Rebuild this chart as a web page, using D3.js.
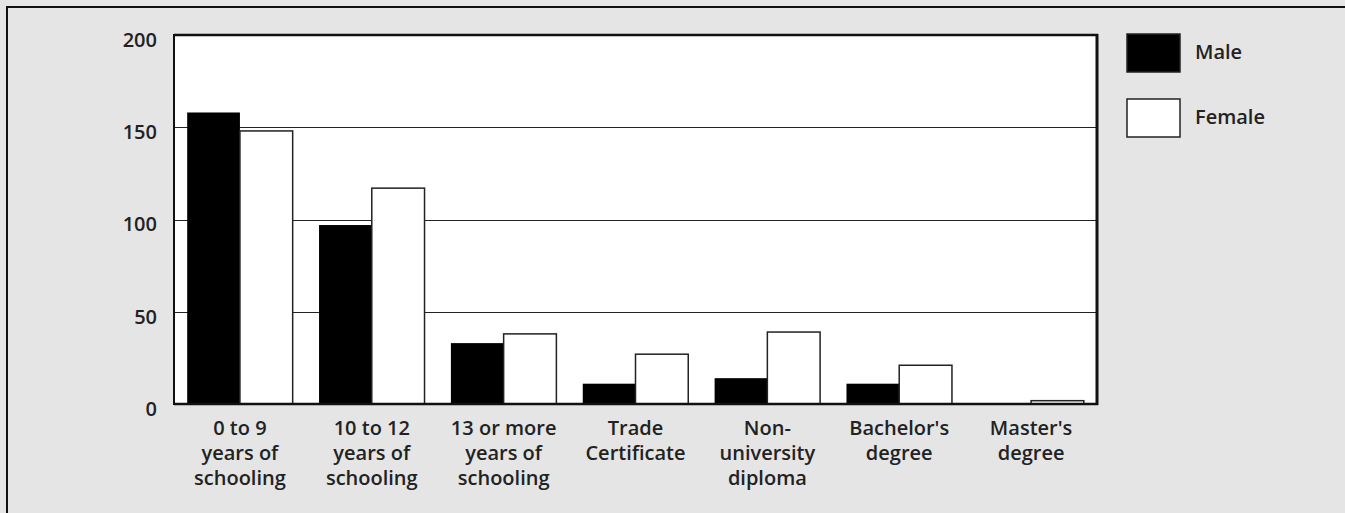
<!DOCTYPE html>
<html><head><meta charset="utf-8">
<script src="https://cdn.jsdelivr.net/npm/d3@7"></script>
<style>
html,body{margin:0;padding:0;background:#e5e5e5;}
svg{display:block;}
text{font-family:"Open Sans","Liberation Sans",Arial,sans-serif;font-weight:600;fill:#222;}
</style></head>
<body>
<svg id="chart" width="1345" height="513"></svg>
<script>
const categories = [
  ["0 to 9","years of","schooling"],
  ["10 to 12","years of","schooling"],
  ["13 or more","years of","schooling"],
  ["Trade","Certificate"],
  ["Non-","university","diploma"],
  ["Bachelor's","degree"],
  ["Master's","degree"]
];
const seriesNames = ["Male","Female"];
const maleValues = [158, 97, 33, 11, 14, 11, 0.5];
const femaleValues = [148, 117, 38, 27, 39, 21, 1.8];
const yTicks = [0, 50, 100, 150, 200];

const svg = d3.select("#chart");
const W = 1345, H = 513;
const plot = {x0:174, x1:1097, y0:35, y1:404};

// outer frame
svg.append("rect").attr("x",0).attr("y",0).attr("width",W).attr("height",H).attr("fill","#e5e5e5");
svg.append("rect").attr("x",7).attr("y",7).attr("width",W+40).attr("height",H+40)
  .attr("fill","#e5e5e5").attr("stroke","#111").attr("stroke-width",2);

const keys = categories.map((c,i)=>"c"+i);
const x = d3.scaleBand().domain(keys).range([plot.x0, plot.x1]).paddingInner(0.2).paddingOuter(0.1);
const xs = d3.scaleBand().domain(seriesNames).range([0, x.bandwidth()]);
const y = d3.scaleLinear().domain([0,200]).range([plot.y1, plot.y0]);

// plot background
svg.append("rect").attr("x",plot.x0).attr("y",plot.y0).attr("width",plot.x1-plot.x0).attr("height",plot.y1-plot.y0).attr("fill","#fff");

// gridlines
svg.append("g").selectAll("line").data(yTicks.filter(t=>t>0 && t<200)).join("line")
  .attr("x1",plot.x0).attr("x2",plot.x1).attr("y1",d=>Math.round(y(d))+0.5).attr("y2",d=>Math.round(y(d))+0.5)
  .attr("stroke","#222").attr("stroke-width",1.2);

// bars
const data = categories.map((c,i)=>({key:keys[i], Male:maleValues[i], Female:femaleValues[i]}));
const g = svg.append("g");
g.selectAll("g").data(data).join("g")
  .attr("transform",d=>`translate(${x(d.key)},0)`)
  .selectAll("rect").data(d=>seriesNames.map(s=>({s, v:d[s]}))).join("rect")
  .attr("x",d=>xs(d.s)).attr("width",xs.bandwidth())
  .attr("y",d=>y(d.v)).attr("height",d=>y(0)-y(d.v))
  .attr("fill",d=>d.s==="Male"?"#000":"#fff")
  .attr("stroke",d=>d.s==="Male"?"none":"#222").attr("stroke-width",1.5);

// plot border
svg.append("line").attr("x1",plot.x0).attr("x2",plot.x1+1).attr("y1",plot.y0).attr("y2",plot.y0).attr("stroke","#111").attr("stroke-width",2.5);
svg.append("line").attr("x1",plot.x0).attr("x2",plot.x1+1).attr("y1",plot.y1).attr("y2",plot.y1).attr("stroke","#111").attr("stroke-width",2.5);
svg.append("line").attr("x1",plot.x0).attr("x2",plot.x0).attr("y1",plot.y0-1).attr("y2",plot.y1+1).attr("stroke","#111").attr("stroke-width",2);
svg.append("line").attr("x1",plot.x1).attr("x2",plot.x1).attr("y1",plot.y0-1).attr("y2",plot.y1+1).attr("stroke","#111").attr("stroke-width",3);

// y axis labels
const yAxis = d3.axisLeft(y).tickValues(yTicks).tickSize(0).tickPadding(0);
const ya = svg.append("g").attr("transform",`translate(157,5)`).call(yAxis);
ya.select(".domain").remove();
ya.selectAll("text").attr("font-size","20px").attr("font-family",null).attr("fill","#222");

// x labels
const xl = svg.append("g");
data.forEach((d,i)=>{
  const cx = x(d.key)+x.bandwidth()/2;
  const t = xl.append("text").attr("text-anchor","middle").attr("font-size","20px");
  categories[i].forEach((line,j)=>{
    t.append("tspan").attr("x",cx).attr("y",435+j*25).text(line);
  });
});

// legend
const legend = svg.append("g");
seriesNames.forEach((s,i)=>{
  const ly = 34 + i*65;
  legend.append("rect").attr("x",1127).attr("y",ly).attr("width",53).attr("height",38)
    .attr("fill",s==="Male"?"#000":"#fff").attr("stroke","#222").attr("stroke-width",1.5);
  legend.append("text").attr("x",1195).attr("y",ly+18).attr("dy","0.35em").attr("font-size","20px").text(s);
});
</script>
</body></html>
